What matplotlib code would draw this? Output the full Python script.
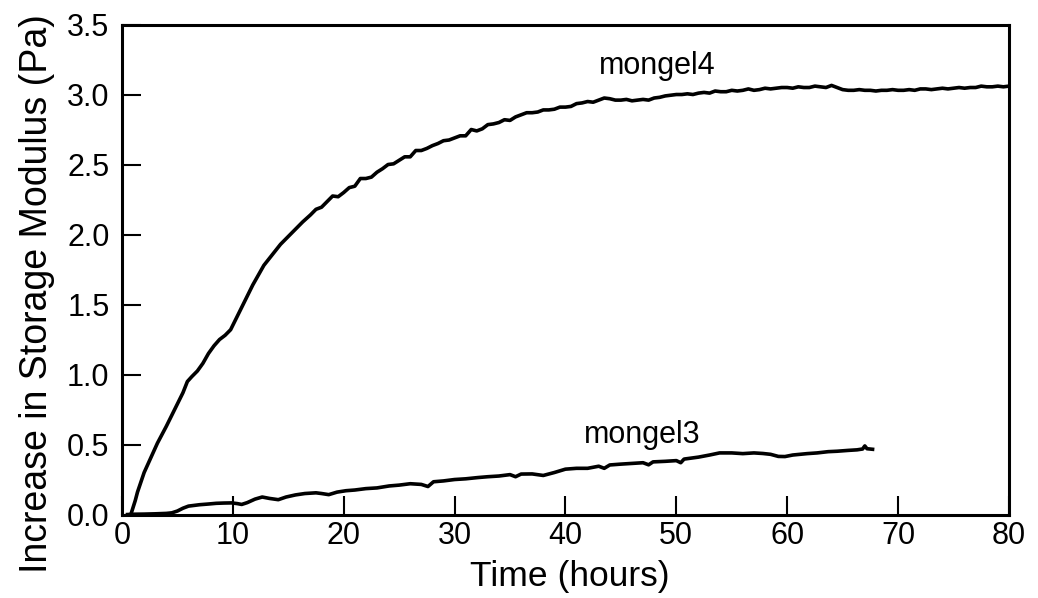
import matplotlib
matplotlib.use("Agg")
import matplotlib.pyplot as plt

plt.rcParams['font.family'] = ['Liberation Sans', 'DejaVu Sans']

# mongel4: increase in storage modulus (Pa) versus time (hours)
hours_m4 = [
    0.8, 1.0, 1.2, 1.4, 1.7, 2.0, 2.4, 2.8, 3.2, 3.6, 4.0, 4.5, 5.0, 5.5, 5.9,
    6.3, 6.8, 7.3, 7.8, 8.3, 8.8, 9.3, 9.8, 10.3, 10.8, 11.3, 11.8, 12.3, 12.8,
    13.3, 13.8, 14.3, 14.8, 15.3, 15.8, 16.3,
    17.0, 17.5, 18.0, 18.5, 19.0, 19.5, 20.0, 20.5, 21.0, 21.5, 22.0, 22.5,
    23.0, 23.5, 24.0, 24.5, 25.0, 25.5, 26.0, 26.5, 27.0, 27.5, 28.0, 28.5,
    29.0, 29.5, 30.0, 30.5, 31.0, 31.5, 32.0, 32.5, 33.0, 33.5, 34.0, 34.5,
    35.0, 35.5, 36.0, 36.5, 37.0, 37.5, 38.0, 38.5, 39.0, 39.5, 40.0, 40.5,
    41.0, 41.5, 42.0, 42.5, 43.0, 43.5, 44.0, 44.5, 45.0, 45.5, 46.0, 46.5,
    47.0, 47.5, 48.0, 48.5, 49.0, 49.5, 50.0, 50.5, 51.0, 51.5, 52.0, 52.5,
    53.0, 53.5, 54.0, 54.5, 55.0, 55.5, 56.0, 56.5, 57.0, 57.5, 58.0, 58.5,
    59.0, 59.5, 60.0, 60.5, 61.0, 61.5, 62.0, 62.5, 63.0, 63.5, 64.0, 64.5,
    65.0, 65.5, 66.0, 66.5, 67.0, 67.5, 68.0, 68.5, 69.0, 69.5, 70.0, 70.5,
    71.0, 71.5, 72.0, 72.5, 73.0, 73.5, 74.0, 74.5, 75.0, 75.5, 76.0, 76.5,
    77.0, 77.5, 78.0, 78.5, 79.0, 79.5, 80.0,
]
modulus_m4 = [
    0.00, 0.05, 0.10, 0.16, 0.23, 0.30, 0.37, 0.44, 0.51, 0.57, 0.63, 0.71,
    0.79, 0.87, 0.95, 0.985, 1.025, 1.08, 1.15, 1.205, 1.25, 1.28, 1.32, 1.40,
    1.48, 1.56, 1.64, 1.71, 1.78, 1.83, 1.88, 1.93, 1.97, 2.01, 2.05, 2.09,
    2.14, 2.18, 2.195, 2.235, 2.275, 2.27, 2.30, 2.335, 2.345, 2.40, 2.40,
    2.41, 2.445, 2.47, 2.50, 2.505, 2.53, 2.555, 2.555, 2.60, 2.60, 2.615,
    2.635, 2.65, 2.67, 2.675, 2.69, 2.705, 2.705, 2.75, 2.74, 2.755, 2.785,
    2.79, 2.80, 2.82, 2.815, 2.84, 2.855, 2.87, 2.87, 2.875, 2.89, 2.89,
    2.895, 2.91, 2.91, 2.915, 2.935, 2.94, 2.95, 2.945, 2.96, 2.975, 2.97,
    2.96, 2.96, 2.965, 2.955, 2.96, 2.965, 2.96, 2.975, 2.98, 2.99, 2.995,
    3.00, 3.00, 3.005, 3.00, 3.01, 3.015, 3.01, 3.025, 3.02, 3.02, 3.03,
    3.025, 3.03, 3.04, 3.03, 3.035, 3.045, 3.04, 3.045, 3.05, 3.05, 3.045,
    3.055, 3.05, 3.05, 3.06, 3.055, 3.05, 3.065, 3.05, 3.035, 3.03, 3.03,
    3.035, 3.03, 3.03, 3.025, 3.03, 3.03, 3.035, 3.03, 3.03, 3.035, 3.03,
    3.04, 3.04, 3.035, 3.04, 3.045, 3.04, 3.045, 3.05, 3.045, 3.05, 3.05,
    3.06, 3.055, 3.055, 3.06, 3.055, 3.06,
]

# mongel3: increase in storage modulus (Pa) versus time (hours)
hours_m3 = [
    0.5, 1.0, 2.0, 3.0, 4.0, 4.5, 5.0, 5.5, 6.0, 6.5, 7.0, 7.8, 8.5, 9.2, 9.9,
    10.4, 10.8, 11.3, 12.0, 12.65, 13.3, 14.1, 14.8, 15.65, 16.5, 17.5, 18.0,
    18.65, 19.4, 20.2, 21.0, 22.0, 23.0, 24.1, 25.0, 26.0, 27.0, 27.6, 28.1,
    29.0, 30.0, 31.0, 32.1, 33.0, 34.0, 35.0, 35.5, 36.0, 37.0, 38.0, 39.0,
    40.0, 41.0, 42.0, 43.0, 43.5, 44.0, 45.0, 46.0, 47.0, 47.5, 47.9, 49.0,
    50.0, 50.4, 50.7, 52.0, 53.0, 53.9, 55.0, 56.0, 57.0, 57.8, 58.5, 59.2,
    59.8, 60.5, 61.8, 62.7, 63.7, 64.5, 65.5, 66.3, 66.8, 67.0, 67.2, 67.7,
]
modulus_m3 = [
    0.000, 0.002, 0.003, 0.005, 0.008, 0.012, 0.025, 0.045, 0.060, 0.065,
    0.070, 0.075, 0.080, 0.082, 0.083, 0.078, 0.072, 0.085, 0.110, 0.125,
    0.115, 0.106, 0.125, 0.140, 0.150, 0.155, 0.150, 0.142, 0.160, 0.170,
    0.175, 0.185, 0.190, 0.204, 0.210, 0.220, 0.215, 0.200, 0.234, 0.240,
    0.250, 0.255, 0.264, 0.270, 0.275, 0.285, 0.270, 0.289, 0.290, 0.279,
    0.300, 0.324, 0.330, 0.330, 0.345, 0.330, 0.354, 0.360, 0.365, 0.370,
    0.355, 0.376, 0.380, 0.385, 0.370, 0.396, 0.410, 0.425, 0.440, 0.440,
    0.435, 0.440, 0.436, 0.430, 0.415, 0.414, 0.425, 0.435, 0.440, 0.449,
    0.452, 0.458, 0.462, 0.468, 0.490, 0.470, 0.466,
]

x_ticks = [0, 10, 20, 30, 40, 50, 60, 70, 80]
y_ticks = [0.0, 0.5, 1.0, 1.5, 2.0, 2.5, 3.0, 3.5]
y_tick_labels = ["0.0", "0.5", "1.0", "1.5", "2.0", "2.5", "3.0", "3.5"]

fig = plt.figure(figsize=(10.38, 5.98), dpi=100)
ax = fig.add_axes([0.1175, 0.1396, 0.8545, 0.8194])

ax.plot(hours_m4, modulus_m4, color="black", lw=2.6, solid_joinstyle="round")
ax.plot(hours_m3, modulus_m3, color="black", lw=2.6, solid_joinstyle="round")

ax.text(43.0, 3.15, "mongel4", fontsize=22, ha="left", va="baseline")
ax.text(41.7, 0.51, "mongel3", fontsize=22, ha="left", va="baseline")

ax.set_xlim(0, 80)
ax.set_ylim(0, 3.5)
ax.set_xticks(x_ticks)
ax.set_yticks(y_ticks)
ax.set_yticklabels(y_tick_labels)

for side in ax.spines.values():
    side.set_linewidth(2.2)
    side.set_color("black")

ax.tick_params(axis="both", direction="in", length=13.5, width=1.5,
               labelsize=22, colors="black")
ax.tick_params(axis="x", pad=5)
ax.tick_params(axis="y", pad=9)

ax.set_xlabel("Time (hours)", fontsize=25.5)
ax.xaxis.set_label_coords(0.505, -0.093)
ax.xaxis.label.set_verticalalignment("top")

ax.set_ylabel("Increase in Storage Modulus (Pa)", fontsize=27)
ax.yaxis.set_label_coords(-0.075, 0.45)

fig.savefig("out.png", dpi=100, facecolor="white")
